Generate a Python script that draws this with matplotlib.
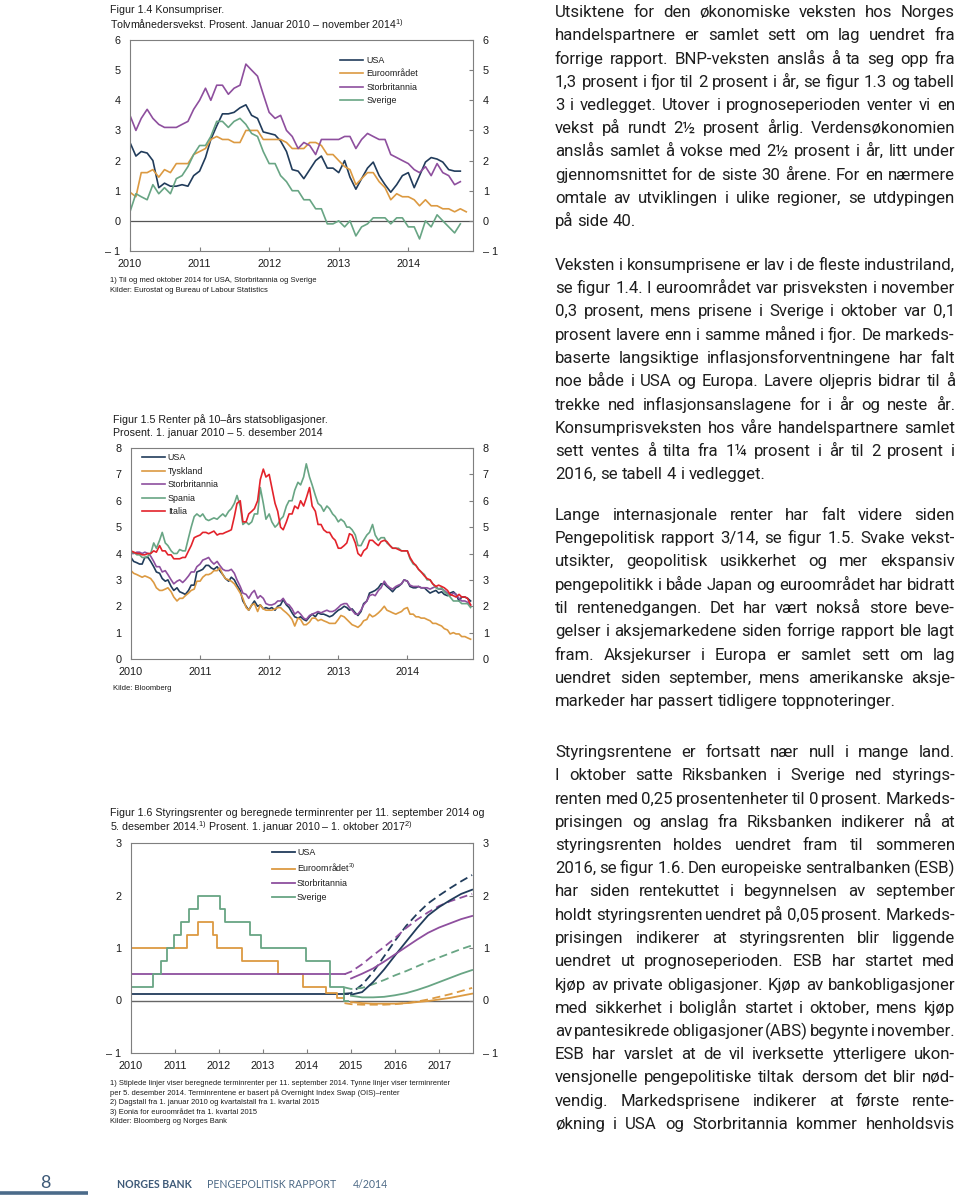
import numpy as np
import pandas as pd
import matplotlib
matplotlib.use('Agg')
import matplotlib.pyplot as plt
from matplotlib.lines import Line2D
from matplotlib.font_manager import FontProperties

W, H = 960, 1200

plt.rcParams['font.family'] = ['Liberation Sans', 'DejaVu Sans']
plt.rcParams['mathtext.fontset'] = 'custom'
plt.rcParams['mathtext.rm'] = 'Liberation Sans'
plt.rcParams['mathtext.it'] = 'Liberation Sans'
plt.rcParams['mathtext.bf'] = 'Liberation Sans:bold'

NAVY = '#213c5b'
ORANGE = '#dc9a42'
PURPLE = '#8e4f9e'
GREEN = '#68a584'
RED = '#e3232b'
SPINE = '#7f7f7f'
INK = '#1b1b1b'
BODY_FONT = ['Roboto', 'DejaVu Sans']

# ---------- Figur 1.4: konsumpriser, månedlig jan 2010 - nov 2014 ----------
kpi_usa = [2.6, 2.15, 2.3, 2.25, 2.0, 1.1, 1.25, 1.15, 1.15, 1.2, 1.15, 1.5,
           1.65, 2.1, 2.7, 3.15, 3.55, 3.55, 3.6, 3.75, 3.85, 3.5, 3.4, 2.95,
           2.9, 2.85, 2.65, 2.3, 1.7, 1.65, 1.4, 1.7, 2.0, 2.15, 1.75, 1.75,
           1.6, 2.0, 1.45, 1.05, 1.4, 1.75, 1.95, 1.5, 1.2, 0.95, 1.2, 1.5,
           1.6, 1.1, 1.5, 1.95, 2.1, 2.05, 1.95, 1.7, 1.65, 1.65]
kpi_euro = [0.95, 0.8, 1.6, 1.6, 1.7, 1.45, 1.7, 1.6, 1.9, 1.9, 1.9, 2.2,
            2.3, 2.4, 2.7, 2.8, 2.7, 2.7, 2.6, 2.6, 3.0, 3.0, 3.0, 2.7,
            2.7, 2.7, 2.7, 2.6, 2.4, 2.4, 2.4, 2.6, 2.6, 2.5, 2.2, 2.2,
            2.0, 1.8, 1.7, 1.2, 1.4, 1.6, 1.6, 1.3, 1.1, 0.7, 0.9, 0.8,
            0.8, 0.7, 0.5, 0.7, 0.5, 0.5, 0.4, 0.4, 0.3, 0.4, 0.3]
kpi_uk = [3.5, 3.0, 3.4, 3.7, 3.4, 3.2, 3.1, 3.1, 3.1, 3.2, 3.3, 3.7,
          4.0, 4.4, 4.0, 4.5, 4.5, 4.2, 4.4, 4.5, 5.2, 5.0, 4.8, 4.2,
          3.6, 3.4, 3.5, 3.0, 2.8, 2.4, 2.6, 2.5, 2.2, 2.7, 2.7, 2.7,
          2.7, 2.8, 2.8, 2.4, 2.7, 2.9, 2.8, 2.7, 2.7, 2.2, 2.1, 2.0,
          1.9, 1.7, 1.6, 1.8, 1.5, 1.9, 1.6, 1.5, 1.2, 1.3]
kpi_swe = [0.3, 0.9, 0.8, 0.7, 1.2, 0.9, 1.1, 0.9, 1.4, 1.5, 1.8, 2.2,
           2.5, 2.5, 2.8, 3.3, 3.3, 3.1, 3.3, 3.4, 3.2, 2.9, 2.8, 2.3,
           1.9, 1.9, 1.5, 1.3, 1.0, 1.0, 0.7, 0.7, 0.4, 0.4, -0.1, -0.1,
           0.0, -0.2, 0.0, -0.5, -0.2, -0.1, 0.1, 0.1, 0.1, -0.1, 0.1, 0.1,
           -0.2, -0.2, -0.6, 0.0, -0.2, 0.2, 0.0, -0.2, -0.4, -0.1]

# ---------- Figur 1.5: 10-års renter, halvmånedlig jan 2010 - des 2014 ----------
r_usa = [3.85, 3.7, 3.65, 3.6, 3.6, 3.85, 3.85, 3.7, 3.5, 3.3, 3.25, 3.05,
         2.95, 3.0, 2.75, 2.6, 2.7, 2.55, 2.5, 2.45, 2.6, 2.8, 2.8, 3.3,
         3.35, 3.4, 3.55, 3.55, 3.45, 3.4, 3.5, 3.35, 3.2, 3.05, 2.95, 3.1,
         3.0, 2.8, 2.6, 2.2, 2.0, 1.85, 2.05, 2.2, 2.0, 2.05, 1.9, 1.95,
         1.9, 1.95, 1.85, 2.0, 2.05, 2.25, 2.05, 1.95, 1.75, 1.6, 1.55, 1.6,
         1.5, 1.45, 1.6, 1.7, 1.6, 1.75, 1.7, 1.7, 1.65, 1.6, 1.65, 1.75,
         1.85, 1.9, 2.0, 1.95, 1.85, 1.9, 1.75, 1.65, 1.8, 2.1, 2.2, 2.5,
         2.55, 2.6, 2.7, 2.85, 2.85, 2.75, 2.65, 2.55, 2.7, 2.75, 2.85, 3.0,
         2.95, 2.75, 2.7, 2.7, 2.75, 2.7, 2.7, 2.6, 2.5, 2.55, 2.6, 2.5,
         2.55, 2.45, 2.4, 2.5, 2.55, 2.45, 2.2, 2.35, 2.35, 2.3, 2.2]
r_ger = [3.35, 3.25, 3.2, 3.15, 3.1, 3.15, 3.1, 3.05, 2.9, 2.7, 2.6, 2.6,
         2.65, 2.7, 2.55, 2.35, 2.2, 2.3, 2.3, 2.4, 2.5, 2.6, 2.65, 2.95,
         2.95, 3.1, 3.2, 3.2, 3.25, 3.35, 3.35, 3.45, 3.2, 3.05, 3.0, 2.95,
         2.85, 2.7, 2.5, 2.3, 1.95, 1.85, 2.05, 2.1, 1.8, 2.05, 1.9, 1.85,
         1.85, 1.85, 1.9, 1.95, 1.95, 1.85, 1.75, 1.65, 1.5, 1.25, 1.55, 1.5,
         1.3, 1.3, 1.4, 1.55, 1.55, 1.45, 1.5, 1.45, 1.4, 1.35, 1.35, 1.35,
         1.5, 1.65, 1.6, 1.5, 1.4, 1.3, 1.25, 1.2, 1.3, 1.45, 1.5, 1.7,
         1.6, 1.65, 1.75, 1.85, 2.0, 1.85, 1.8, 1.75, 1.7, 1.75, 1.8, 1.9,
         1.95, 1.7, 1.7, 1.6, 1.6, 1.55, 1.55, 1.5, 1.45, 1.35, 1.35, 1.3,
         1.25, 1.15, 1.1, 0.95, 1.0, 0.95, 0.95, 0.85, 0.85, 0.8, 0.75]
r_uk = [4.0, 4.0, 4.05, 4.05, 4.0, 4.05, 4.0, 3.9, 3.7, 3.5, 3.5, 3.3,
        3.35, 3.2, 3.0, 2.85, 2.95, 3.0, 2.9, 3.0, 3.15, 3.3, 3.3, 3.5,
        3.6, 3.75, 3.8, 3.85, 3.7, 3.6, 3.7, 3.55, 3.4, 3.35, 3.35, 3.4,
        3.25, 3.0, 2.75, 2.5, 2.45, 2.3, 2.5, 2.6, 2.3, 2.4, 2.3, 2.1,
        2.05, 2.05, 2.1, 2.2, 2.2, 2.3, 2.1, 2.05, 1.9, 1.7, 1.8, 1.7,
        1.55, 1.5, 1.65, 1.7, 1.75, 1.8, 1.75, 1.8, 1.85, 1.8, 1.8, 1.85,
        1.95, 2.05, 2.1, 2.1, 1.95, 1.85, 1.7, 1.7, 1.85, 2.05, 2.2, 2.4,
        2.45, 2.4, 2.6, 2.7, 2.95, 2.8, 2.7, 2.65, 2.75, 2.8, 2.85, 3.0,
        2.95, 2.8, 2.75, 2.75, 2.75, 2.7, 2.7, 2.7, 2.65, 2.7, 2.75, 2.65,
        2.65, 2.6, 2.5, 2.4, 2.5, 2.45, 2.3, 2.2, 2.2, 2.15, 2.05]
r_spa = [4.0, 4.05, 3.95, 3.95, 3.85, 3.85, 3.9, 4.0, 4.4, 4.2, 4.5, 4.8,
         4.4, 4.3, 4.1, 4.0, 4.0, 4.15, 4.1, 4.1, 4.6, 5.0, 5.4, 5.5,
         5.4, 5.5, 5.3, 5.25, 5.3, 5.35, 5.3, 5.4, 5.5, 5.4, 5.6, 5.7,
         5.9, 6.2, 5.8, 5.1, 5.2, 5.1, 5.2, 5.5, 5.5, 6.5, 5.9, 5.3,
         5.5, 5.2, 5.0, 5.1, 5.3, 5.4, 5.8, 6.0, 6.0, 6.4, 6.7, 6.6,
         6.9, 7.4, 6.9, 6.6, 6.2, 5.9, 5.8, 5.6, 5.8, 5.7, 5.5, 5.4,
         5.2, 5.3, 5.2, 5.0, 5.0, 4.9, 4.7, 4.3, 4.3, 4.5, 4.7, 4.8,
         5.1, 4.7, 4.5, 4.6, 4.6, 4.4, 4.3, 4.2, 4.2, 4.2, 4.1, 4.1,
         4.1, 3.8, 3.6, 3.55, 3.4, 3.3, 3.2, 3.0, 3.0, 2.85, 2.7, 2.65,
         2.7, 2.55, 2.45, 2.35, 2.2, 2.2, 2.2, 2.1, 2.1, 2.1, 1.95]
r_ita = [4.1, 4.05, 4.0, 4.0, 3.95, 3.95, 4.0, 4.0, 4.1, 4.05, 4.3, 4.1,
         4.1, 3.95, 3.95, 3.8, 3.8, 3.8, 3.85, 3.85, 4.1, 4.3, 4.6, 4.65,
         4.7, 4.8, 4.8, 4.75, 4.8, 4.85, 4.7, 4.75, 4.75, 4.8, 4.85, 4.9,
         5.4, 5.9, 6.0, 5.2, 5.2, 5.5, 5.6, 5.7, 6.0, 6.8, 7.2, 6.9,
         7.0, 6.5, 5.9, 5.6, 5.0, 4.9, 5.2, 5.5, 5.5, 5.8, 5.7, 6.0,
         5.8, 6.1, 6.5, 5.8, 5.6, 5.1, 5.1, 4.9, 4.8, 4.8, 4.6, 4.5,
         4.2, 4.2, 4.3, 4.4, 4.75, 4.7, 4.4, 4.0, 3.9, 4.1, 4.2, 4.5,
         4.5, 4.4, 4.3, 4.45, 4.5, 4.45, 4.3, 4.2, 4.2, 4.15, 4.1, 4.1,
         4.1, 3.85, 3.65, 3.55, 3.4, 3.3, 3.15, 3.05, 3.0, 2.85, 2.75, 2.8,
         2.75, 2.7, 2.6, 2.45, 2.4, 2.35, 2.45, 2.35, 2.35, 2.3, 2.05]

# ---------- Figur 1.6: styringsrenter (endringsdatoer) og terminrenter ----------
usa_step_t = [2010.0, 2014.93]
usa_step = [0.125, 0.125]
uk_step_t = [2010.0, 2014.87]
uk_step = [0.5, 0.5]
euro_step_t = [2010.0, 2011.28, 2011.53, 2011.86, 2011.95, 2012.53, 2013.35, 2013.9, 2014.44, 2014.69, 2014.85]
euro_step = [1.0, 1.25, 1.5, 1.25, 1.0, 0.75, 0.5, 0.25, 0.15, 0.05, 0.05]
swe_step_t = [2010.0, 2010.51, 2010.68, 2010.82, 2010.97, 2011.14, 2011.32, 2011.53,
              2012.03, 2012.13, 2012.7, 2012.96, 2013.97, 2014.52, 2014.83, 2014.92]
swe_step = [0.25, 0.5, 0.75, 1.0, 1.25, 1.5, 1.75, 2.0, 1.75, 1.5, 1.25, 1.0, 0.75, 0.25, 0.0, 0.0]

fwd_t = [2015.0, 2015.25, 2015.5, 2015.75, 2016.0, 2016.25, 2016.5, 2016.75, 2017.0, 2017.25, 2017.5, 2017.75]
fwd_sep_t = [2014.85] + fwd_t
# 11. september 2014 (stiplet)
sep_usa = [0.13, 0.14, 0.30, 0.54, 0.84, 1.14, 1.42, 1.65, 1.85, 2.0, 2.14, 2.27, 2.39]
sep_euro = [-0.05, -0.07, -0.08, -0.08, -0.08, -0.07, -0.05, -0.02, 0.02, 0.07, 0.12, 0.18, 0.24]
sep_uk = [0.5, 0.55, 0.69, 0.86, 1.02, 1.19, 1.38, 1.54, 1.68, 1.8, 1.89, 1.96, 2.03]
sep_swe = [0.25, 0.22, 0.24, 0.31, 0.39, 0.48, 0.56, 0.65, 0.74, 0.82, 0.9, 0.98, 1.05]
# 5. desember 2014 (heltrukket)
dec_usa = [0.11, 0.16, 0.35, 0.59, 0.86, 1.12, 1.38, 1.62, 1.78, 1.91, 2.03, 2.11]
dec_euro = [-0.03, -0.05, -0.06, -0.06, -0.06, -0.05, -0.03, -0.01, 0.02, 0.05, 0.09, 0.13]
dec_uk = [0.42, 0.51, 0.61, 0.74, 0.88, 1.02, 1.16, 1.29, 1.39, 1.47, 1.55, 1.61]
dec_swe = [0.09, 0.06, 0.06, 0.07, 0.1, 0.14, 0.2, 0.27, 0.35, 0.43, 0.51, 0.58]


def decyear(idx):
    return (idx.year + (idx.dayofyear - 1) / 365.0).values


t_month = decyear(pd.date_range('2010-01-01', '2014-11-01', freq='MS'))
t_half = decyear(pd.date_range('2010-01-01', '2014-12-01', freq='SMS'))

fig = plt.figure(figsize=(W / 100, H / 100), dpi=100)


def px_axes(l, t, r, b):
    return fig.add_axes([l / W, 1 - b / H, (r - l) / W, (b - t) / H])


def lab(v):
    return '– %d' % abs(v) if v < 0 else str(v)


def style(ax, xmax, ymin, ymax, years):
    ax.set_xlim(2010, xmax)
    ax.set_ylim(ymin, ymax)
    ax.set_xticks(years)
    ax.set_xticklabels([str(y) for y in years])
    yt = list(range(ymin, ymax + 1))
    ax.set_yticks(yt)
    ax.set_yticklabels([lab(v) for v in yt])
    ax.tick_params(axis='x', direction='in', length=3, width=0.8, color=SPINE,
                   pad=6, labelsize=7.8, labelcolor=INK)
    ax.tick_params(axis='y', direction='in', length=3, width=0.8, color=SPINE,
                   pad=7, labelsize=7.8, labelcolor=INK, left=False, right=True,
                   labelleft=True, labelright=True)
    for s in ax.spines.values():
        s.set_color(SPINE)
        s.set_linewidth(0.8)


def legend(ax, x, y, spacing, pad=0.35):
    leg = ax.legend(loc='upper left', bbox_to_anchor=(x, y), frameon=False, fontsize=6.4,
                    handlelength=2.6, handletextpad=pad, labelspacing=spacing,
                    borderpad=0, borderaxespad=0)
    for t in leg.get_texts():
        t.set_color(INK)


def ftext(x, y, s, size, **kw):
    fig.text(x / W, 1 - y / H, s, fontsize=size, va='center', ha='left', color=INK, **kw)


# ---------------- Figur 1.4 ----------------
ax1 = px_axes(130, 40, 473, 251)
ax1.axhline(0, color='#555555', lw=0.9, zorder=1)
ax1.plot(t_month[:58], kpi_usa, color=NAVY, lw=1.2, label='USA')
ax1.plot(t_month, kpi_euro, color=ORANGE, lw=1.2, label='Euroområdet')
ax1.plot(t_month[:58], kpi_uk, color=PURPLE, lw=1.2, label='Storbritannia')
ax1.plot(t_month[:58], kpi_swe, color=GREEN, lw=1.2, label='Sverige')
style(ax1, 2014.93, -1, 6, [2010, 2011, 2012, 2013, 2014])
legend(ax1, 0.612, 0.925, 0.5)
ftext(110, 10, 'Figur 1.4 Konsumpriser.', 7.7)
ftext(110, 24, 'Tolvmånedersvekst. Prosent. Januar 2010 – november 2014$^{1)}$', 7.7)
ftext(110, 280, '1) Til og med oktober 2014 for USA, Storbritannia og Sverige', 5.5)
ftext(110, 290, 'Kilder: Eurostat og Bureau of Labour Statistics', 5.5)

# ---------------- Figur 1.5 ----------------
ax2 = px_axes(131, 448, 473, 659)
ax2.plot(t_half, r_usa, color=NAVY, lw=1.2, label='USA')
ax2.plot(t_half, r_ger, color=ORANGE, lw=1.2, label='Tyskland')
ax2.plot(t_half, r_uk, color=PURPLE, lw=1.2, label='Storbritannia')
ax2.plot(t_half, r_spa, color=GREEN, lw=1.2, label='Spania')
ax2.plot(t_half, r_ita, color=RED, lw=1.2, label='Italia')
style(ax2, 2014.95, 0, 8, [2010, 2011, 2012, 2013, 2014])
legend(ax2, 0.031, 0.974, 0.5)
ftext(113, 420, 'Figur 1.5 Renter på 10–års statsobligasjoner.', 7.7)
ftext(113, 433, 'Prosent. 1. januar 2010 – 5. desember 2014', 7.7)
ftext(113, 688, 'Kilde: Bloomberg', 5.5)

# ---------------- Figur 1.6 ----------------
ax3 = px_axes(131, 843, 473, 1053)
ax3.axhline(0, color='#666666', lw=1.0, zorder=1)
dash = (0, (4.5, 2.5))
ax3.step(usa_step_t, usa_step, where='post', color=NAVY, lw=1.3, label='USA')
ax3.step(euro_step_t, euro_step, where='post', color=ORANGE, lw=1.3, label='Euroområdet$^{3)}$')
ax3.step(uk_step_t, uk_step, where='post', color=PURPLE, lw=1.3, label='Storbritannia')
ax3.step(swe_step_t, swe_step, where='post', color=GREEN, lw=1.3, label='Sverige')
for vals, c in [(sep_usa, NAVY), (sep_euro, ORANGE), (sep_uk, PURPLE), (sep_swe, GREEN)]:
    ax3.plot(fwd_sep_t, vals, color=c, lw=1.3, linestyle=dash)
for vals, c in [(dec_usa, NAVY), (dec_euro, ORANGE), (dec_uk, PURPLE), (dec_swe, GREEN)]:
    ax3.plot(fwd_t, vals, color=c, lw=1.3)
style(ax3, 2017.77, -1, 3, [2010, 2011, 2012, 2013, 2014, 2015, 2016, 2017])
legend(ax3, 0.411, 0.976, 0.55, pad=0.25)
ftext(110, 813, 'Figur 1.6 Styringsrenter og beregnede terminrenter per 11. september 2014 og', 7.7)
ftext(110, 827, '5. desember 2014.$^{1)}$ Prosent. 1. januar 2010 – 1. oktober 2017$^{2)}$', 7.7)
notes3 = ['1) Stiplede linjer viser beregnede terminrenter per 11. september 2014. Tynne linjer viser terminrenter',
          'per 5. desember 2014. Terminrentene er basert på Overnight Index Swap (OIS)–renter',
          '2) Dagstall fra 1. januar 2010 og kvartalstall fra 1. kvartal 2015',
          '3) Eonia for euroområdet fra 1. kvartal 2015',
          'Kilder: Bloomberg og Norges Bank']
for i, s in enumerate(notes3):
    ftext(110, 1083.3 + i * 9.6, s, 5.4)

# ---------------- brødtekst (justert) ----------------
p1 = ['Utsiktene for den økonomiske veksten hos Norges',
      'handelspartnere er samlet sett om lag uendret fra',
      'forrige rapport. BNP-veksten anslås å ta seg opp fra',
      '1,3 prosent i fjor til 2 prosent i år, se figur 1.3 og tabell',
      '3 i vedlegget. Utover i prognoseperioden venter vi en',
      'vekst på rundt 2½ prosent årlig. Verdensøkonomien',
      'anslås samlet å vokse med 2½ prosent i år, litt under',
      'gjennomsnittet for de siste 30 årene. For en nærmere',
      'omtale av utviklingen i ulike regioner, se utdypingen',
      'på side 40.']
p2 = ['Veksten i konsumprisene er lav i de fleste industriland,',
      'se figur 1.4. I euroområdet var prisveksten i november',
      '0,3 prosent, mens prisene i Sverige i oktober var 0,1',
      'prosent lavere enn i samme måned i fjor. De markeds-',
      'baserte langsiktige inflasjonsforventningene har falt',
      'noe både i USA og Europa. Lavere oljepris bidrar til å',
      'trekke ned inflasjonsanslagene for i år og neste år.',
      'Konsumprisveksten hos våre handelspartnere samlet',
      'sett ventes å tilta fra 1¼ prosent i år til 2 prosent i',
      '2016, se tabell 4 i vedlegget.']
p3 = ['Lange internasjonale renter har falt videre siden',
      'Pengepolitisk rapport 3/14, se figur 1.5. Svake vekst-',
      'utsikter, geopolitisk usikkerhet og mer ekspansiv',
      'pengepolitikk i både Japan og euroområdet har bidratt',
      'til rentenedgangen. Det har vært nokså store beve-',
      'gelser i aksjemarkedene siden forrige rapport ble lagt',
      'fram. Aksjekurser i Europa er samlet sett om lag',
      'uendret siden september, mens amerikanske aksje-',
      'markeder har passert tidligere toppnoteringer.']
p4 = ['Styringsrentene er fortsatt nær null i mange land.',
      'I oktober satte Riksbanken i Sverige ned styrings-',
      'renten med 0,25 prosentenheter til 0 prosent. Markeds-',
      'prisingen og anslag fra Riksbanken indikerer nå at',
      'styringsrenten holdes uendret fram til sommeren',
      '2016, se figur 1.6. Den europeiske sentralbanken (ESB)',
      'har siden rentekuttet i begynnelsen av september',
      'holdt styringsrenten uendret på 0,05 prosent. Markeds-',
      'prisingen indikerer at styringsrenten blir liggende',
      'uendret ut prognoseperioden. ESB har startet med',
      'kjøp av private obligasjoner. Kjøp av bankobligasjoner',
      'med sikkerhet i boliglån startet i oktober, mens kjøp',
      'av pantesikrede obligasjoner (ABS) begynte i november.',
      'ESB har varslet at de vil iverksette ytterligere ukon-',
      'vensjonelle pengepolitiske tiltak dersom det blir nød-',
      'vendig. Markedsprisene indikerer at første rente-',
      'økning i USA og Storbritannia kommer henholdsvis']

renderer = fig.canvas.get_renderer()


def text_width(s, size):
    t = fig.text(0, 0, s, fontsize=size, family=BODY_FONT)
    w = t.get_window_extent(renderer=renderer).width
    t.remove()
    return w


X0, X1, LEAD = 555, 955, 23.25
full_lines = p1[:-1] + p2[:-1] + p3[:-1] + p4

# størrelse: siste linje i avsnitt 3 er 355 px bred, men ingen justert linje får
# ordmellomrom under 45 % av et vanlig mellomrom
sp12 = text_width('x x', 12) - text_width('xx', 12)
size_last = 12 * 355 / text_width('markeder har passert tidligere toppnoteringer.', 12)
size_fit = min(12 * (X1 - X0) / (sum(text_width(w_, 12) for w_ in s.split(' '))
                                 + 0.45 * sp12 * (len(s.split(' ')) - 1))
               for s in full_lines)
body_size = min(size_last, size_fit)
body_prop = FontProperties(family=BODY_FONT, size=body_size)


def word(x, ybase, s):
    # Agg legger hvert ord på hele piksler ut fra ordets egen nedre kant;
    # flytt ankeret slik at alle ord i linjen får samme grunnlinje
    _, h, d = renderer.get_text_width_height_descent(s, body_prop, ismath=False)
    y_top = ybase + np.floor(h) - np.floor(h - d) - d
    fig.text(x / W, 1 - y_top / H, s, fontproperties=body_prop,
             color='#1e1e1e', va='baseline')


def paragraph(lines, y0, justify_last=False):
    for i, line in enumerate(lines):
        ybase = round(y0 + i * LEAD + 5)
        words = line.split(' ')
        widths = [text_width(w_, body_size) for w_ in words]
        if i == len(lines) - 1 and not justify_last:
            gap = text_width('x x', body_size) - text_width('xx', body_size)
        else:
            gap = (X1 - X0 - sum(widths)) / (len(words) - 1)
        x = X0
        for w_, wd in zip(words, widths):
            word(x, ybase, w_)
            x += wd + gap


paragraph(p1, 12)
paragraph(p2, 265)
paragraph(p3, 515)
paragraph(p4, 752, justify_last=True)

# ---------------- bunntekst ----------------
fig.add_artist(Line2D([0, 88 / W], [1 - 1193 / H] * 2, transform=fig.transFigure,
                      color='#4b6b8a', lw=2.6, solid_capstyle='butt'))
fig.text(45 / W, 1 - 1183 / H, '8', fontsize=13, family='Lato', color='#3e5a78',
         ha='center', va='center')
fig.text(117 / W, 1 - 1184 / H, 'NORGES BANK', fontsize=7.6, family='Lato',
         weight='bold', color='#3e5a78', va='center')
fig.text(207 / W, 1 - 1184 / H, 'PENGEPOLITISK RAPPORT', fontsize=7.6, family='Lato',
         color='#4d6a86', va='center')
fig.text(353 / W, 1 - 1184 / H, '4/2014', fontsize=7.6, family='Lato',
         color='#4d6a86', va='center')

fig.savefig('out.png', dpi=100)
